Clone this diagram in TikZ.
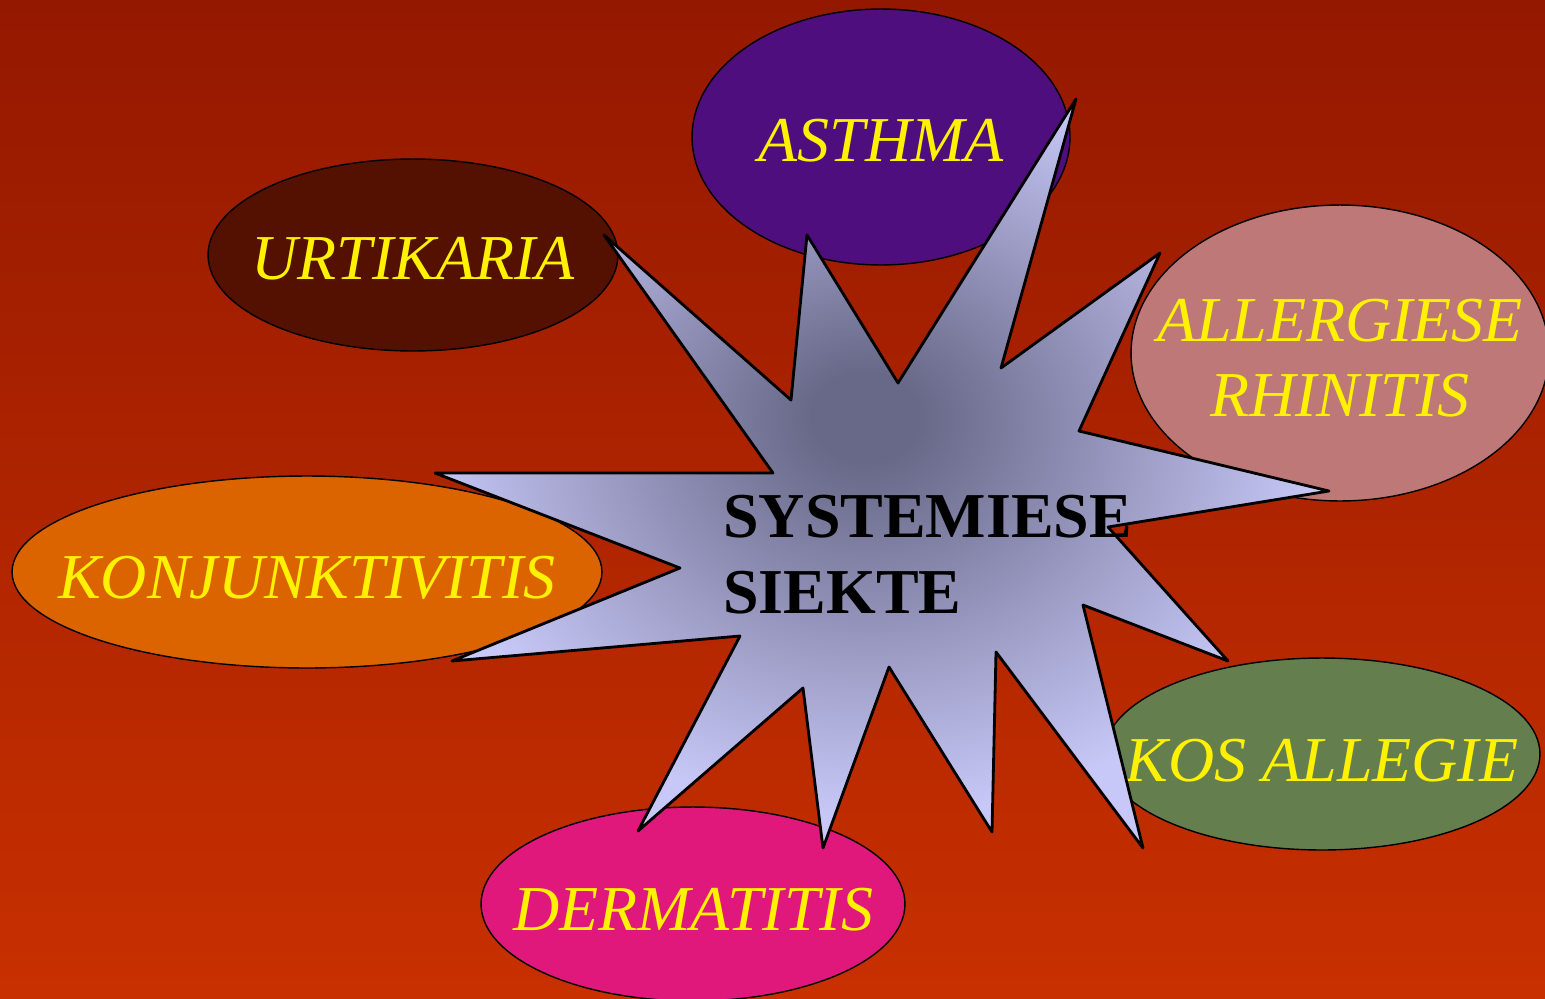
\documentclass[tikz,border=0pt]{standalone}
\usepackage{fontspec}
\setmainfont{Liberation Serif}
\usepackage{xcolor}
\usepackage{tikz}
\usetikzlibrary{shapes.geometric}

\definecolor{bgtop}{HTML}{941800}
\definecolor{bgbottom}{HTML}{C83000}
\definecolor{stardark}{HTML}{686888}
\definecolor{starlight}{HTML}{C8C8F8}
\definecolor{ast}{HTML}{4E0E7E}
\definecolor{urt}{HTML}{541000}
\definecolor{rhin}{HTML}{BE7878}
\definecolor{konj}{HTML}{DC6400}
\definecolor{kos}{HTML}{647E4E}
\definecolor{derm}{HTML}{E0187C}

% one pixel of the 1545x998 grid
\newcommand\pxu{0.56905pt}

\pgfdeclareradialshading{starglow}{\pgfpoint{-1bp}{4bp}}{color(0bp)=(stardark); color(3bp)=(stardark); color(25bp)=(starlight); color(50bp)=(starlight)}

\tikzset{
  blob/.style={ellipse, draw=black, line width=0.8pt, inner sep=0pt},
  blobtext/.style={inner sep=0pt, text=yellow, align=center,
    font=\itshape\fontsize{36.4}{42.7}\selectfont},
}

\begin{document}
\begin{tikzpicture}[x=0.02cm, y=-0.02cm, line join=round]

% Sfondo
\useasboundingbox (0,0) rectangle (1545,998);
\shade[top color=bgtop, bottom color=bgbottom] (0,0) rectangle (1545,998);

% Ellissi
\node[blob, fill=ast, minimum width=378*\pxu, minimum height=256*\pxu] (asthma) at (881,137) {};
\node[blob, fill=urt, minimum width=410*\pxu, minimum height=192*\pxu] (urti) at (413,255) {};
\node[blob, fill=rhin, minimum width=418*\pxu, minimum height=296*\pxu] (rhini) at (1340,353) {};
\node[blob, fill=konj, minimum width=590*\pxu, minimum height=192*\pxu] (konju) at (307,572) {};
\node[blob, fill=kos, minimum width=436*\pxu, minimum height=192*\pxu] (kosal) at (1322,754) {};
\node[blob, fill=derm, minimum width=424*\pxu, minimum height=194*\pxu] (derma) at (693,904) {};

% Testi
\node[blobtext] (asthma-t) at ([yshift=-2.3pt]asthma.center) {ASTHMA};
\node[blobtext] (urti-t) at ([yshift=-2pt]urti.center) {URTIKARIA};
\node[blobtext] (rhini-t) at ([yshift=-3pt]rhini.center) {ALLERGIESE\\RHINITIS};
\node[blobtext] (konju-t) at ([yshift=-3.5pt]konju.center) {KONJUNKTIVITIS};
\node[blobtext] (kosal-t) at ([yshift=-3.5pt]kosal.center) {KOS ALLEGIE};
\node[blobtext] (derma-t) at ([yshift=-3pt]derma.center) {DERMATITIS};

% Stella
\shade[shading=starglow, draw=black, line width=1.6pt]
  (1076,99) -- (1001,368) -- (1160,253) -- (1079,431) -- (1329,491)
  -- (1108,527) -- (1228,661) -- (1083,605) -- (1143,848) -- (996,652)
  -- (992,832) -- (889,667) -- (823,848) -- (803,688) -- (638,831)
  -- (740,636) -- (452,661) -- (680,568) -- (435,473) -- (773,473)
  -- (604,235) -- (791,400) -- (807,235) -- (898,383) -- cycle;

% Titolo centrale
\node[anchor=west, inner sep=0pt, align=left,
  font=\bfseries\fontsize{36.4}{43.2}\selectfont] (sys) at (723,555)
  {SYSTEMIESE\\SIEKTE};

\end{tikzpicture}
\end{document}
